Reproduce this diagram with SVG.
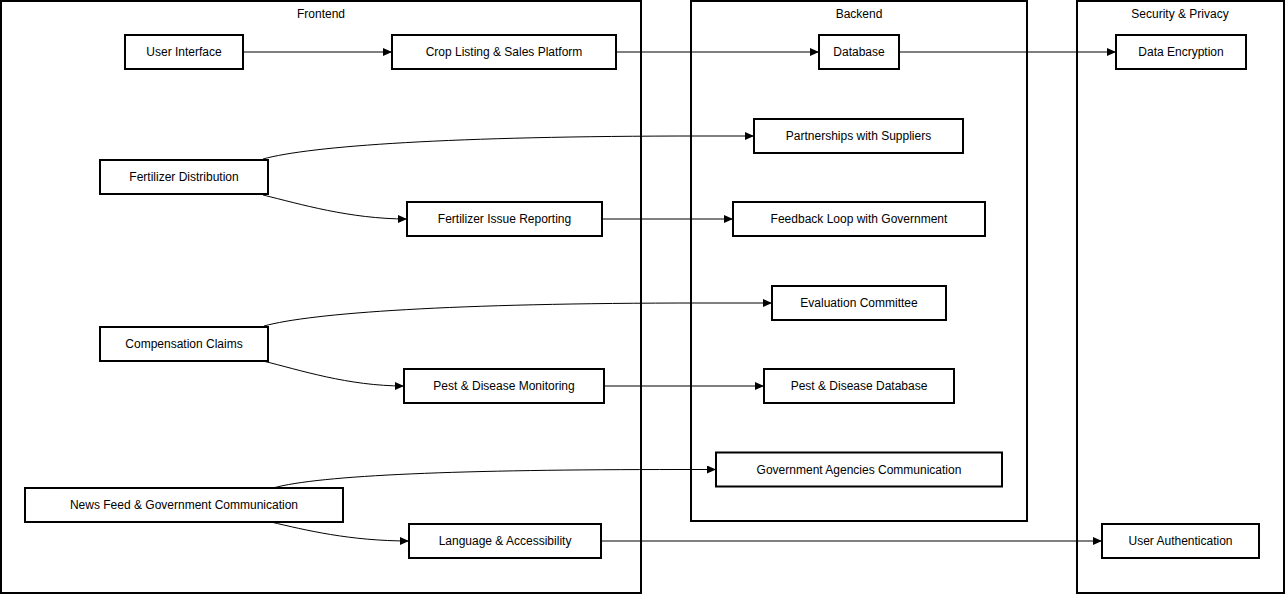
<svg xmlns="http://www.w3.org/2000/svg" width="1286" height="595" viewBox="0 0 1286 595">
<style>
.cluster{fill:none;stroke:#000;stroke-width:2}
.node rect{fill:#fff;stroke:#000;stroke-width:2}
text{font-family:"Liberation Sans",Arial,Helvetica,sans-serif;font-size:12px;fill:#000;text-anchor:middle}
.edge{fill:none;stroke:#000;stroke-width:1;marker-end:url(#arr)}
</style>
<defs>
<marker id="arr" markerUnits="userSpaceOnUse" markerWidth="9" markerHeight="8" refX="9" refY="4" orient="auto">
<path d="M0,0 L9,4 L0,8 z" fill="#000"/>
</marker>
</defs>
<rect width="1286" height="595" fill="#fff"/>
<g id="cluster-frontend">
<rect class="cluster" x="1" y="1" width="640" height="592"/>
<text x="321" y="18">Frontend</text>
</g>
<g id="cluster-backend">
<rect class="cluster" x="691" y="1" width="336" height="520"/>
<text x="859" y="18">Backend</text>
</g>
<g id="cluster-security">
<rect class="cluster" x="1077" y="1" width="207" height="592"/>
<text x="1180" y="18">Security &amp; Privacy</text>
</g>
<g id="edges">
<path class="edge" d="M243,52 L392,52"/>
<path class="edge" d="M616,52 L819,52"/>
<path class="edge" d="M899,52 L1116,52"/>
<path class="edge" d="M263,159 C310,146 450,136 700,136 L754,136"/>
<path class="edge" d="M263,195 C300,204 350,219 407,219"/>
<path class="edge" d="M602,219 L733,219"/>
<path class="edge" d="M264,326 C311,313 451,303 701,303 L772,303"/>
<path class="edge" d="M263,361 C300,370 348,386 404,386"/>
<path class="edge" d="M604,386 L764,386"/>
<path class="edge" d="M273,488 C320,475 460,469.5 680,469.5 L716,469.5"/>
<path class="edge" d="M271,522 C305,530 350,541 409,541"/>
<path class="edge" d="M601,541 L1102,541"/>
</g>
<g id="node-user-interface" class="node"><rect x="125" y="35" width="118" height="34"/><text x="184" y="56">User Interface</text></g>
<g id="node-crop-listing" class="node"><rect x="392" y="35" width="224" height="34"/><text x="504" y="56">Crop Listing &amp; Sales Platform</text></g>
<g id="node-database" class="node"><rect x="819" y="35" width="80" height="34"/><text x="859" y="56">Database</text></g>
<g id="node-data-encryption" class="node"><rect x="1116" y="35" width="130" height="34"/><text x="1181" y="56">Data Encryption</text></g>
<g id="node-partnerships" class="node"><rect x="754" y="119" width="209" height="34"/><text x="858.5" y="140">Partnerships with Suppliers</text></g>
<g id="node-fertilizer-distribution" class="node"><rect x="100" y="160" width="168" height="34"/><text x="184" y="181">Fertilizer Distribution</text></g>
<g id="node-fertilizer-issue" class="node"><rect x="407" y="202" width="195" height="34"/><text x="504.5" y="223">Fertilizer Issue Reporting</text></g>
<g id="node-feedback-loop" class="node"><rect x="733" y="202" width="252" height="34"/><text x="859" y="223">Feedback Loop with Government</text></g>
<g id="node-evaluation" class="node"><rect x="772" y="286" width="174" height="34"/><text x="859" y="307">Evaluation Committee</text></g>
<g id="node-compensation" class="node"><rect x="100" y="327" width="168" height="34"/><text x="184" y="348">Compensation Claims</text></g>
<g id="node-pest-monitoring" class="node"><rect x="404" y="369" width="200" height="34"/><text x="504" y="390">Pest &amp; Disease Monitoring</text></g>
<g id="node-pest-database" class="node"><rect x="764" y="369" width="190" height="34"/><text x="859" y="390">Pest &amp; Disease Database</text></g>
<g id="node-gov-agencies" class="node"><rect x="716" y="452.5" width="286" height="34"/><text x="859" y="473.5">Government Agencies Communication</text></g>
<g id="node-news-feed" class="node"><rect x="25" y="488" width="318" height="34"/><text x="184" y="509">News Feed &amp; Government Communication</text></g>
<g id="node-language" class="node"><rect x="409" y="524" width="192" height="34"/><text x="505" y="545">Language &amp; Accessibility</text></g>
<g id="node-user-auth" class="node"><rect x="1102" y="524" width="157" height="34"/><text x="1180.5" y="545">User Authentication</text></g>
</svg>
